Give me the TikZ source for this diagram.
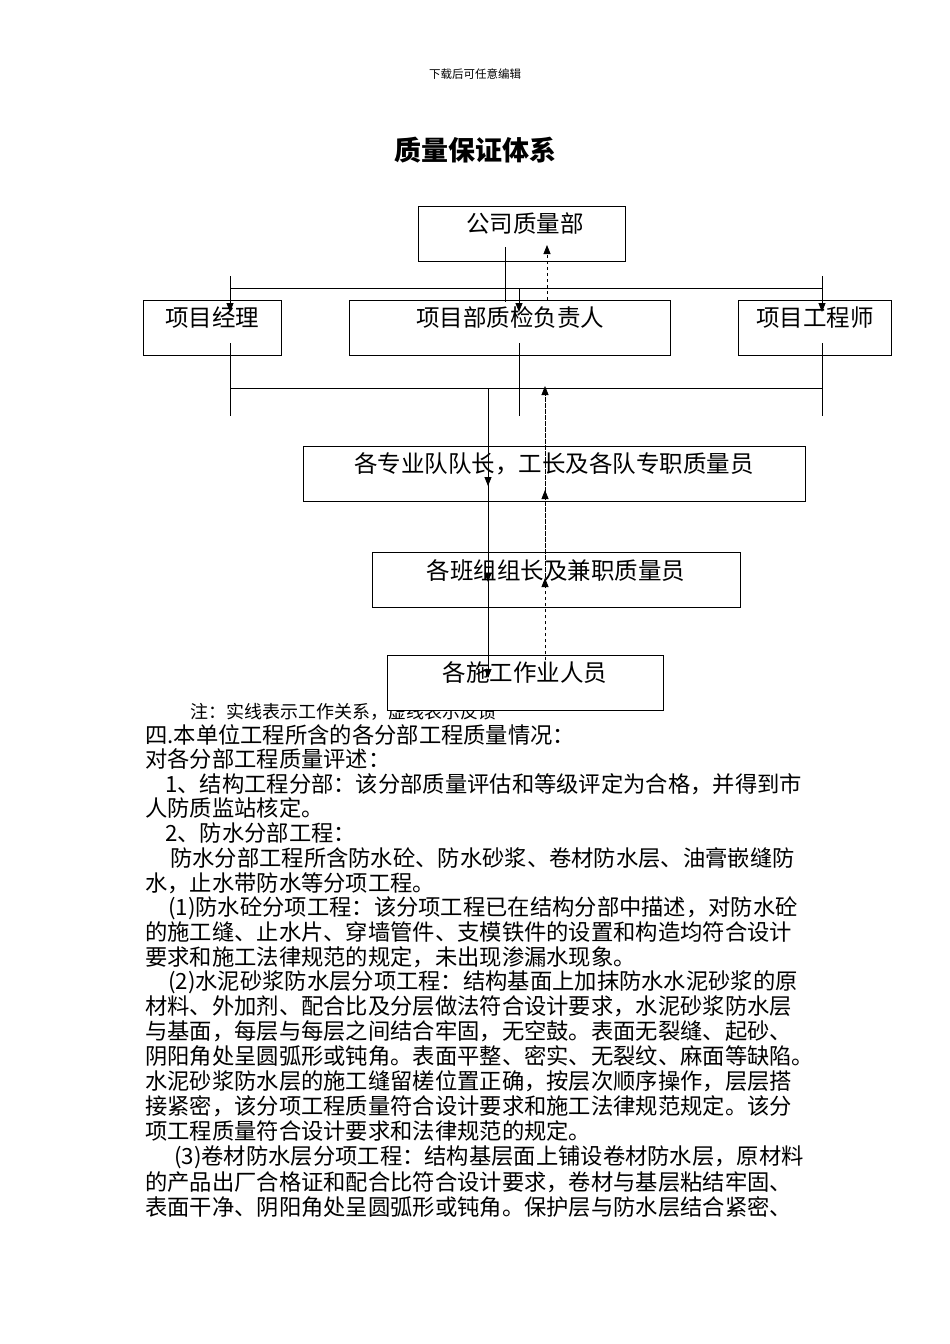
\documentclass[tikz,border=0pt]{standalone}
\usepackage{fontspec}
\setmainfont{Noto Sans CJK SC}
\usetikzlibrary{arrows.meta}
\tikzset{
  box/.style={draw,fill=white,line width=0.8pt,minimum height=55pt,inner sep=0pt},
  btxt/.style={font=\fontsize{23.5}{26}\selectfont},
  body/.style={anchor=west,inner sep=0pt,font=\fontsize{22.3}{25}\selectfont},
  sol/.style={line width=0.8pt},
  dsh/.style={line width=0.8pt,dashed},
  arr/.style={-{Triangle[length=9pt,width=7pt]}}
}
\begin{document}
\begin{tikzpicture}[x=1pt,y=-1pt]
\useasboundingbox (0,0) rectangle (950,1344);
\node (hdr) at (475,74) {\fontsize{11.5}{13}\selectfont 下载后可任意编辑};
\node (title) at (475,150) {\fontsize{27}{30}\selectfont\bfseries 质量保证体系};
% note (under the bottom box)
\node[anchor=west,inner sep=0pt,font=\fontsize{18}{20}\selectfont] (note) at (190,712) {注：实线表示工作关系，虚线表示反馈};
% boxes
\node[box,minimum width=207pt] (gs) at (521.5,233.5) {};
\node[box,minimum width=138pt] (jl) at (212,327.5) {};
\node[box,minimum width=321pt] (zj) at (509.5,327.5) {};
\node[box,minimum width=153pt] (gcs) at (814.5,327.5) {};
\node[box,minimum width=502pt] (dz) at (554,473.5) {};
\node[box,minimum width=368pt] (bz) at (556,579.5) {};
\node[box,minimum width=276pt] (zy) at (525,682.5) {};
\node[btxt] (tgs) at (525,224) {公司质量部};
\node[btxt] (tjl) at (212,318) {项目经理};
\node[btxt] (tzj) at (510,318) {项目部质检负责人};
\node[btxt] (tgcs) at (815,318) {项目工程师};
\node[btxt] (tdz) at (554,464) {各专业队队长，工长及各队专职质量员};
\node[btxt] (tbz) at (556,571) {各班组组长及兼职质量员};
\node[btxt] (tzy) at (525,673) {各施工作业人员};
% connectors top
\coordinate (a1) at (505,247); \coordinate (a2) at (505,302);
\draw[sol] (a1) -- (a2);
\coordinate (b1) at (230,288); \coordinate (b2) at (822,288);
\draw[sol] (b1) -- (b2);
\draw[sol,arr] (230,276) -- (230,312);
\draw[sol,arr] (822,276) -- (822,312);
\draw[sol,arr] (519,288) -- (519,312);
\draw[dsh,arr] (547,300) -- (547,245);
% lower bus
\draw[sol] (230,343) -- (230,416);
\draw[sol] (519,343) -- (519,416);
\draw[sol] (822,343) -- (822,416);
\draw[sol] (230,388) -- (822,388);
\draw[sol] (488,388) -- (488,677);
\draw[sol,arr] (488,388) -- (488,486);
\draw[sol,arr] (488,486) -- (488,582);
\draw[sol,arr] (488,582) -- (488,678);
\draw[dsh] (545,660) -- (545,388);
\draw[dsh,arr] (545,660) -- (545,578);
\draw[dsh,arr] (545,578) -- (545,490);
\draw[dsh,arr] (545,490) -- (545,386);
% body text
\node[body] (l1) at (145,735) {四.本单位工程所含的各分部工程质量情况：};
\node[body] (l2) at (145,759) {对各分部工程质量评述：};
\node[body] (l3) at (165,784) {1、结构工程分部：该分部质量评估和等级评定为合格，并得到市};
\node[body] (l4) at (145,808) {人防质监站核定。};
\node[body] (l5) at (165,833) {2、防水分部工程：};
\node[body] (l6) at (170,858) {防水分部工程所含防水砼、防水砂浆、卷材防水层、油膏嵌缝防};
\node[body] (l7) at (145,883) {水，止水带防水等分项工程。};
\node[body] (l8) at (168,908) {(1)防水砼分项工程：该分项工程已在结构分部中描述，对防水砼};
\node[body] (l9) at (145,932) {的施工缝、止水片、穿墙管件、支模铁件的设置和构造均符合设计};
\node[body] (l10) at (145,957) {要求和施工法律规范的规定，未出现渗漏水现象。};
\node[body] (l11) at (168,982) {(2)水泥砂浆防水层分项工程：结构基面上加抹防水水泥砂浆的原};
\node[body] (l12) at (145,1006) {材料、外加剂、配合比及分层做法符合设计要求，水泥砂浆防水层};
\node[body] (l13) at (145,1031) {与基面，每层与每层之间结合牢固，无空鼓。表面无裂缝、起砂、};
\node[body] (l14) at (145,1056) {阴阳角处呈圆弧形或钝角。表面平整、密实、无裂纹、麻面等缺陷。};
\node[body] (l15) at (145,1081) {水泥砂浆防水层的施工缝留槎位置正确，按层次顺序操作，层层搭};
\node[body] (l16) at (145,1106) {接紧密，该分项工程质量符合设计要求和施工法律规范规定。该分};
\node[body] (l17) at (145,1131) {项工程质量符合设计要求和法律规范的规定。};
\node[body] (l18) at (174,1157) {(3)卷材防水层分项工程：结构基层面上铺设卷材防水层，原材料};
\node[body] (l19) at (145,1182) {的产品出厂合格证和配合比符合设计要求，卷材与基层粘结牢固、};
\node[body] (l20) at (145,1207) {表面干净、阴阳角处呈圆弧形或钝角。保护层与防水层结合紧密、};
\end{tikzpicture}
\end{document}
